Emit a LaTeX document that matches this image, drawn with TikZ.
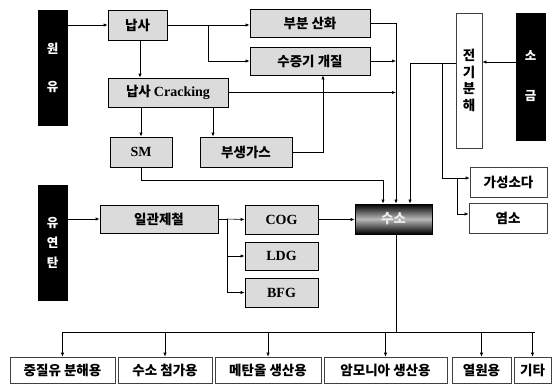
\documentclass[tikz,border=0pt]{standalone}
\usepackage{fontspec}
\newfontfamily\kr{Noto Sans CJK KR}
\newfontfamily\lat{Liberation Serif}
\usetikzlibrary{arrows.meta,shadows}
\tikzset{
 box/.style={draw=black, line width=0.7pt, fill=gray!28, inner sep=0pt,
   font=\kr\bfseries\fontsize{13.5}{15}\selectfont,
   drop shadow={shadow xshift=1.2pt,shadow yshift=-1.2pt,fill=black!55,opacity=1}},
 wbox/.style={draw=black!75, line width=0.6pt, fill=white, inner sep=0pt,
   font=\kr\bfseries\fontsize{13.5}{15}\selectfont},
 bar/.style={fill=black, draw=black, inner sep=0pt, text=white, align=center,
   font=\kr\bfseries\fontsize{12.5}{14}\selectfont},
 latin/.style={font=\lat\bfseries\fontsize{14}{16}\selectfont},
 arr/.style={-{Latex[length=4pt,width=3.2pt]}, line width=0.6pt},
 ln/.style={line width=0.6pt},
}
\begin{document}
\begin{tikzpicture}[x=1pt,y=-1pt]
\useasboundingbox[fill=white] (0,0) rectangle (554,384);

% sources
\node[bar, minimum width=29pt, minimum height=115pt] (wonyu) at (52.5,67.5) {원\\[24pt]유};
\node[bar, minimum width=29pt, minimum height=115pt] (coal) at (52.5,242.5) {유\\[6pt]연\\[6pt]탄};
\node[bar, minimum width=29pt, minimum height=127pt] (salt) at (530.5,76.5) {소\\[26pt]금};

% naphtha chain
\node[box, minimum width=59pt, minimum height=30pt] (naphtha) at (137.5,25) {납사};
\node[box, minimum width=120pt, minimum height=28pt] (partox) at (310,23) {부분 산화};
\node[box, minimum width=120pt, minimum height=28pt] (steam) at (310,61) {수증기 개질};
\node[box, minimum width=120pt, minimum height=29pt] (crack) at (168,92.5) {납사 {\lat\bfseries\fontsize{14}{16}\selectfont Cracking}};
\node[box, latin, minimum width=62pt, minimum height=30pt] (sm) at (141,152) {SM};
\node[box, minimum width=92pt, minimum height=30pt] (byg) at (246,152) {부생가스};

% electrolysis
\node[wbox, align=center, minimum width=26pt, minimum height=135pt,
      font=\kr\bfseries\fontsize{13.5}{16.5}\selectfont] (elec) at (469,80.5) {전\\기\\분\\해};
\node[wbox, minimum width=77pt, minimum height=30pt] (soda) at (508.5,182) {가성소다};
\node[wbox, minimum width=78pt, minimum height=30pt] (cl) at (508,218) {염소};

% coal chain
\node[box, minimum width=118pt, minimum height=28pt] (steel) at (159,219) {일관제철};
\node[box, latin, minimum width=73pt, minimum height=29pt] (cog) at (281.5,219.5) {COG};
\node[box, latin, minimum width=73pt, minimum height=28pt] (ldg) at (281.5,256) {LDG};
\node[box, latin, minimum width=73pt, minimum height=29pt] (bfg) at (281.5,292.5) {BFG};

% hydrogen
\node[draw=black, line width=0.7pt, minimum width=77pt, minimum height=30pt, inner sep=0pt,
      top color=black, bottom color=black, middle color=gray!55, text=white!85!gray,
      font=\kr\bfseries\fontsize{13.5}{15}\selectfont] (h2) at (393.5,219) {수소};

% uses
\node[wbox, minimum width=105pt, minimum height=26pt] (b1) at (62.5,370) {중질유 분해용};
\node[wbox, minimum width=94pt, minimum height=26pt] (b2) at (165,370) {수소 첨가용};
\node[wbox, minimum width=106pt, minimum height=26pt] (b3) at (268,370) {메탄올 생산용};
\node[wbox, minimum width=123pt, minimum height=26pt] (b4) at (385.5,370) {암모니아 생산용};
\node[wbox, minimum width=59pt, minimum height=26pt] (b5) at (481.5,370) {열원용};
\node[wbox, minimum width=37pt, minimum height=26pt] (b6) at (532.5,370) {기타};

% junction coordinates
\coordinate (j1) at (208,25);
\coordinate (cx) at (396,23);
\coordinate (smb) at (141,180);
\coordinate (sm2) at (383,180);
\coordinate (e2) at (410,63);
\coordinate (e3) at (442,63);
\coordinate (e4) at (457,178);
\coordinate (s1) at (227,219);
\coordinate (bus) at (396,332);
\coordinate (busl) at (63,332);
\coordinate (busr) at (535,332);

% connectors: naphtha side
\draw[arr] (wonyu.east |- naphtha.west) -- (naphtha.west);
\draw[arr] (naphtha.east) -- (naphtha.east -| partox.west);
\draw[arr] (j1) |- (steam.west);
\draw[arr] ([xshift=2.5pt]naphtha.south) -- ([xshift=2.5pt]naphtha.south |- crack.north);
\draw[arr] (sm.north |- crack.south) -- (sm.north);
\draw[arr] ([xshift=-33pt]byg.north |- crack.south) -- ([xshift=-33pt]byg.north);
\draw[ln] (partox.east) -- (cx);
\draw[arr] (cx) -- (cx |- h2.north);
\draw[arr] (steam.east) -- (steam.east -| cx);
\draw[arr] (crack.east) -- (crack.east -| cx);
\draw[arr] (byg.east) -| ([xshift=13pt]steam.south);
\draw[arr] (sm.south) -- (smb) -- (sm2) -- (sm2 |- h2.north);

% electrolysis side
\draw[arr] ([yshift=14.5pt]salt.west) -- ([yshift=14.5pt]salt.west -| elec.east);
\draw[ln] ([yshift=17.5pt]elec.west) -- (e2);
\draw[arr] (e2) -- (e2 |- h2.north);
\draw[arr] (e3) |- ([yshift=4pt]soda.west);
\draw[arr] (e4) |- ([yshift=4pt]cl.west);

% coal side
\draw[arr] (coal.east |- steel.east) -- (steel.west);
\draw[ln] (steel.east) -- (s1);
\draw[arr] (s1) -- (cog.west);
\draw[arr] (s1) |- (ldg.west);
\draw[arr] (s1) |- (bfg.west);
\draw[arr] (cog.east) -- (cog.east -| h2.west);

% hydrogen uses
\draw[ln] (bus |- h2.south) -- (bus);
\draw[ln] (busl) -- (busr);
\foreach \b in {b1,b2,b3,b4,b5,b6}{
  \draw[arr] (\b.north |- bus) -- (\b.north);
}
\end{tikzpicture}
\end{document}
